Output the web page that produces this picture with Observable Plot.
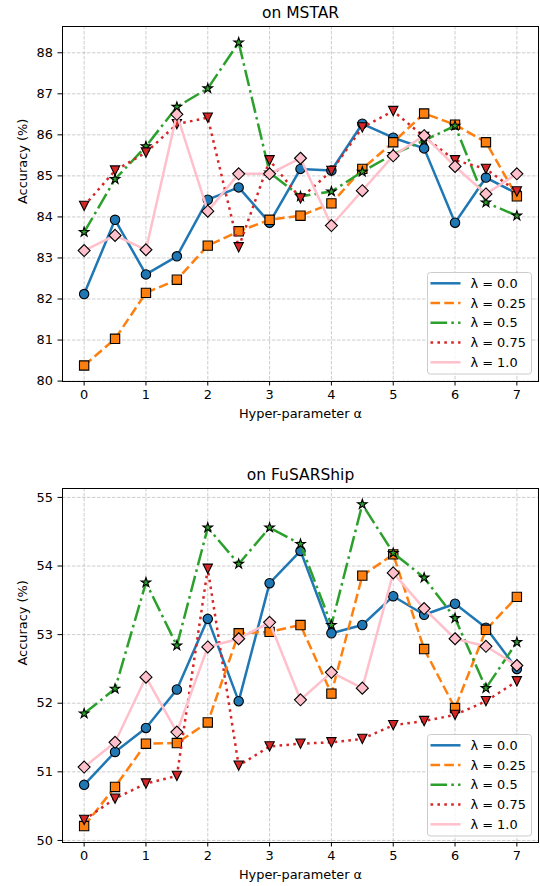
<!DOCTYPE html>
<html><head><meta charset="utf-8">
<script src="https://cdn.jsdelivr.net/npm/d3@7"></script>
<script src="https://cdn.jsdelivr.net/npm/@observablehq/plot@0.6"></script>
<style>
body{margin:0;background:#fff;font-family:"DejaVu Sans",sans-serif;}
#wrap{position:relative;width:540px;height:886px;}
#wrap svg{display:block;}
.leg{position:absolute;}
</style></head>
<body><div id="wrap"></div>
<script>
const alphas = [0,0.5,1,1.5,2,2.5,3,3.5,4,4.5,5,5.5,6,6.5,7];
const lambdaLabels = ["λ = 0.0","λ = 0.25","λ = 0.5","λ = 0.75","λ = 1.0"];
const xTicks = [0,1,2,3,4,5,6,7];
const mstarTicks = [80,81,82,83,84,85,86,87,88];
const fusarTicks = [50,51,52,53,54,55];

// on MSTAR
const mstar_l000 = [82.12,83.93,82.60,83.04,84.42,84.72,83.86,85.17,85.13,86.27,85.93,85.67,83.86,84.96,84.57];
const mstar_l025 = [80.38,81.03,82.15,82.47,83.30,83.65,83.93,84.03,84.33,85.17,85.82,86.52,86.25,85.82,84.50];
const mstar_l050 = [83.63,84.92,85.72,86.68,87.13,88.25,85.08,84.50,84.62,85.10,85.53,85.86,86.22,84.35,84.03];
const mstar_l075 = [84.27,85.13,85.57,86.26,86.42,83.26,85.38,84.45,85.12,86.18,86.58,85.95,85.38,85.17,84.62];
const mstar_l100 = [83.18,83.55,83.20,86.50,84.14,85.05,85.05,85.43,83.79,84.64,85.49,85.98,85.23,84.56,85.05];

// on FuSARShip
const fusar_l000 = [50.81,51.29,51.64,52.20,53.23,52.03,53.75,54.22,53.02,53.14,53.56,53.29,53.45,53.10,52.50];
const fusar_l025 = [50.21,50.78,51.41,51.42,51.72,53.02,53.04,53.14,52.14,53.86,54.17,52.79,51.93,53.07,53.55];
const fusar_l050 = [51.85,52.21,53.76,52.84,54.56,54.03,54.56,54.32,53.14,54.90,54.19,53.83,53.24,52.22,52.89];
const fusar_l075 = [50.30,50.61,50.83,50.94,53.96,51.09,51.37,51.41,51.43,51.48,51.68,51.74,51.83,52.03,52.32];
const fusar_l100 = [51.07,51.43,52.38,51.58,52.82,52.94,53.18,52.05,52.45,52.22,53.90,53.38,52.94,52.83,52.55];

const colors = ["#1f77b4","#ff7f0e","#2ca02c","#d62728","pink"];
const dashes = [null,"9.6,4.2","16.6,4.2,2.6,4.2","2.6,4.3",null];
const triangleDown = {draw(ctx, size){const h=Math.sqrt(size)*0.56;ctx.moveTo(-h,-h);ctx.lineTo(h,-h);ctx.lineTo(0,h);ctx.closePath();}};
const symbols = ["circle","square","star",triangleDown,"diamond2"];
const radii = [4.7,5.25,3.0,4.7,5.4];
const LW = 2.5;
const FS = 12.9;

function chart(title, seriesList, ticks, domain, height, mt, mb){
  const marks = [
    Plot.gridX(xTicks,{stroke:"#b0b0b0",strokeOpacity:0.7,strokeWidth:0.9,strokeDasharray:"3.5,1.5"}),
    Plot.gridY(ticks,{stroke:"#b0b0b0",strokeOpacity:0.7,strokeWidth:0.9,strokeDasharray:"3.5,1.5"})
  ];
  seriesList.forEach((vals,i)=>{
    const data = alphas.map((a,j)=>({a, v: vals[j]}));
    marks.push(Plot.line(data,{x:"a",y:"v",stroke:colors[i],strokeWidth:LW,strokeDasharray:dashes[i],strokeLinejoin:"round",strokeLinecap:"butt"}));
    marks.push(Plot.dot(data,{x:"a",y:"v",symbol:()=>symbols[i],r:radii[i],fill:colors[i],stroke:"black",strokeWidth:1.1}));
  });
  marks.push(Plot.frame({stroke:"black",strokeWidth:1}));
  marks.push(Plot.axisX(xTicks,{tickSize:4.5,tickPadding:3.5,label:null,fontSize:FS,stroke:"black"}));
  marks.push(Plot.axisY(ticks,{tickSize:4.5,tickPadding:5,label:null,fontSize:FS,stroke:"black",tickFormat:d=>String(d)}));
  marks.push(Plot.text([title],{text:d=>d,frameAnchor:"top",dy:-13.5,fontSize:15.5,fill:"black",lineAnchor:"middle"}));
  marks.push(Plot.text(["Hyper-parameter α"],{text:d=>d,frameAnchor:"bottom",dy:32.5,fontSize:FS,fill:"black",lineAnchor:"middle"}));
  marks.push(Plot.text(["Accuracy (%)"],{text:d=>d,frameAnchor:"left",dx:-40,rotate:-90,fontSize:FS,fill:"black",lineAnchor:"middle"}));
  return Plot.plot({
    width:540,height,marginLeft:62,marginRight:2,marginTop:mt,marginBottom:mb,
    style:{fontFamily:"DejaVu Sans",fontSize:FS+"px",color:"black",background:"white"},
    x:{domain:[-0.35,7.35]},
    y:{domain},
    marks
  });
}

function legend(top,left){
  const W=105,H=102.5;
  const svg=d3.create("svg").attr("class","leg").attr("width",W).attr("height",H)
    .style("top",top+"px").style("left",left+"px");
  svg.append("rect").attr("x",0.5).attr("y",0.5).attr("width",W-1).attr("height",H-1).attr("rx",3)
    .attr("fill","white").attr("fill-opacity",0.8).attr("stroke","#cccccc").attr("stroke-width",1);
  lambdaLabels.forEach((lab,i)=>{
    const y=11.3+i*19.75;
    svg.append("line").attr("x1",3.5).attr("x2",33.5).attr("y1",y).attr("y2",y)
      .attr("stroke",colors[i]).attr("stroke-width",LW).attr("stroke-dasharray",dashes[i]);
    svg.append("text").attr("x",43.5).attr("y",y).attr("dy","0.36em").attr("font-size",FS)
      .attr("font-family","DejaVu Sans").attr("fill","black").text(lab);
  });
  return svg.node();
}

const wrap=document.getElementById("wrap");
wrap.appendChild(chart("on MSTAR",[mstar_l000,mstar_l025,mstar_l050,mstar_l075,mstar_l100],mstarTicks,[79.99,88.64],440,26,59));
wrap.appendChild(chart("on FuSARShip",[fusar_l000,fusar_l025,fusar_l050,fusar_l075,fusar_l100],fusarTicks,[49.97,55.13],446,48,44));
wrap.appendChild(legend(272,426.5));
wrap.appendChild(legend(734,426.5));
</script></body></html>
